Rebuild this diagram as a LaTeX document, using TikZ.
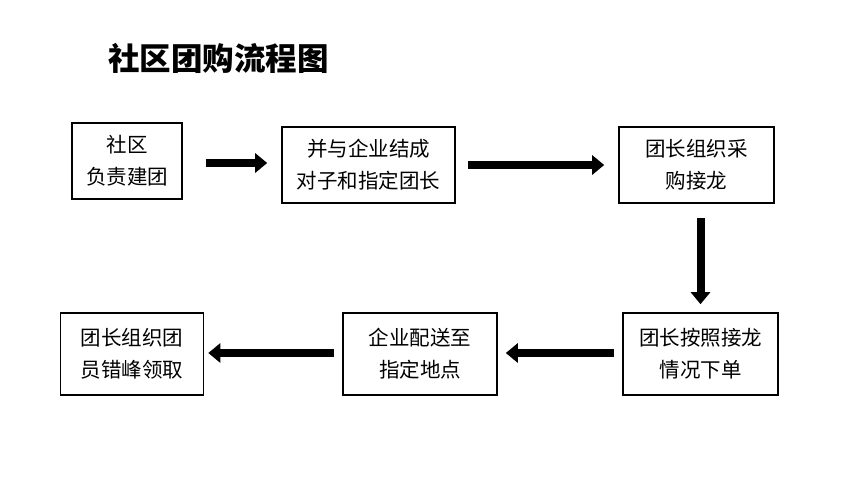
\documentclass[tikz,border=0pt]{standalone}
\usepackage{fontspec}
\setmainfont{Noto Sans CJK SC}
\usetikzlibrary{arrows.meta}
\tikzset{
  stepbox/.style={draw, line width=1.6pt, align=center, inner sep=0pt, font=\fontsize{20.5}{32}\selectfont},
  flow/.style={line width=8pt, -{Triangle[length=12pt,width=19pt]}}
}
\begin{document}
\begin{tikzpicture}[x=1pt,y=-1pt]
      \useasboundingbox (0,0) rectangle (861,496);
      \node (title) at (218.5,58) {\fontsize{31.5}{31.5}\selectfont\bfseries 社区团购流程图};
      % top row
      \node[stepbox, minimum width=110pt, minimum height=76pt] (build) at (127,161) {社区\\负责建团};
      \node[stepbox, minimum width=173pt, minimum height=76pt] (pair) at (368.5,165) {并与企业结成\\对子和指定团长};
      \node[stepbox, minimum width=155pt, minimum height=76pt] (buy) at (696.5,165) {团长组织采\\购接龙};
      % bottom row
      \node[stepbox, minimum width=155pt, minimum height=82pt] (order) at (700.5,354) {团长按照接龙\\情况下单};
      \node[stepbox, minimum width=154pt, minimum height=82pt] (ship) at (420,354) {企业配送至\\指定地点};
      \node[stepbox, minimum width=143pt, minimum height=82pt] (pick) at (132,354) {团长组织团\\员错峰领取};
      % arrows
      \draw[flow, shorten <=23pt, shorten >=14pt] (build.east |- 0,163) -- (pair.west |- 0,163);
      \draw[flow, shorten <=12pt, shorten >=14pt] (pair) -- (buy);
      \draw[flow, shorten <=14pt, shorten >=8pt] (buy.south -| order.north) -- (order.north);
      \draw[flow, shorten <=8pt, shorten >=8pt] (order.west |- 0,353) -- (ship.east |- 0,353);
      \draw[flow, shorten <=8pt, shorten >=4pt] (ship.west |- 0,353) -- (pick.east |- 0,353);
\end{tikzpicture}
\end{document}
